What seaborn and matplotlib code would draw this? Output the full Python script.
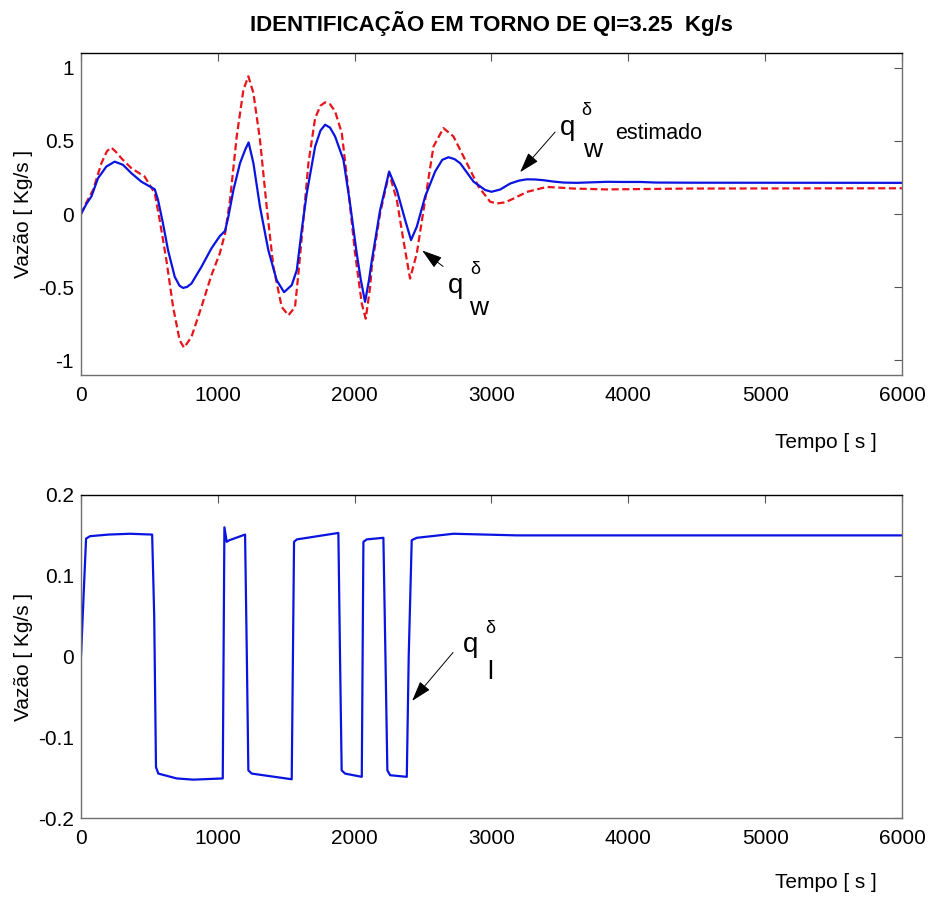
import matplotlib
matplotlib.use("Agg")
import matplotlib.pyplot as plt
import seaborn as sns

sns.set_style("white")
plt.rcParams['font.family'] = ['Liberation Sans', 'DejaVu Sans']
plt.rcParams['text.color'] = 'black'
plt.rcParams['axes.labelcolor'] = 'black'

# top plot: q_w (blue, estimated) and q_w (red dashed)
t_blue = [0, 40, 76, 124, 185, 246, 307, 368, 441, 539, 563, 599, 636, 685, 720, 746,
          775, 807, 880, 953, 1014, 1053, 1077, 1114, 1162, 1200, 1225, 1260, 1308,
          1369, 1430, 1484, 1540, 1577, 1613, 1650, 1711, 1750, 1784, 1820, 1857,
          1918, 1966, 2015, 2045, 2076, 2105, 2125, 2186, 2252, 2308, 2369, 2412,
          2454, 2515, 2588, 2640, 2686, 2730, 2771, 2869, 2954, 3000, 3063, 3136,
          3200, 3258, 3320, 3380, 3450, 3526, 3623, 3843, 3950, 4086, 4200, 4452, 6000]
q_blue = [0.0, 0.07, 0.12, 0.244, 0.324, 0.358, 0.336, 0.279, 0.221, 0.169, 0.096,
          -0.064, -0.247, -0.429, -0.49, -0.505, -0.498, -0.475, -0.361, -0.235,
          -0.151, -0.115, -0.018, 0.164, 0.347, 0.44, 0.489, 0.347, 0.05, -0.247,
          -0.452, -0.534, -0.486, -0.384, -0.11, 0.142, 0.461, 0.57, 0.61, 0.59,
          0.53, 0.37, 0.073, -0.269, -0.45, -0.6, -0.45, -0.32, 0.027, 0.29, 0.164,
          -0.041, -0.178, -0.087, 0.119, 0.29, 0.37, 0.388, 0.375, 0.347, 0.221,
          0.164, 0.152, 0.167, 0.208, 0.228, 0.237, 0.236, 0.231, 0.222, 0.215,
          0.213, 0.22, 0.219, 0.219, 0.215, 0.214, 0.213]

t_red = [0, 40, 88, 149, 190, 222, 260, 295, 368, 465, 539, 575, 624, 673, 721, 753,
         807, 880, 953, 1014, 1053, 1089, 1138, 1187, 1223, 1260, 1308, 1357, 1406,
         1467, 1516, 1564, 1589, 1625, 1662, 1711, 1750, 1784, 1820, 1857, 1906,
         1954, 2003, 2052, 2081, 2113, 2125, 2186, 2252, 2308, 2356, 2405, 2454,
         2515, 2576, 2649, 2722, 2820, 2905, 2990, 3040, 3100, 3160, 3258, 3404,
         3500, 3599, 3843, 4452, 6000]
q_red = [0.0, 0.08, 0.164, 0.347, 0.43, 0.454, 0.42, 0.381, 0.313, 0.256, 0.142,
         -0.041, -0.315, -0.635, -0.863, -0.913, -0.84, -0.635, -0.418, -0.27,
         -0.132, 0.096, 0.53, 0.849, 0.941, 0.826, 0.507, 0.05, -0.361, -0.635,
         -0.692, -0.635, -0.406, -0.041, 0.347, 0.655, 0.74, 0.763, 0.75, 0.701,
         0.553, 0.164, -0.269, -0.612, -0.715, -0.5, -0.361, 0.005, 0.279, 0.096,
         -0.178, -0.441, -0.269, 0.096, 0.461, 0.587, 0.53, 0.347, 0.187, 0.084,
         0.072, 0.08, 0.105, 0.151, 0.185, 0.18, 0.174, 0.168, 0.174, 0.176]

# bottom plot: q_l
t_l = [0, 20, 37, 66, 200, 358, 520, 535, 548, 565, 700, 821, 1036, 1048, 1065, 1084,
       1199, 1212, 1223, 1248, 1540, 1557, 1577, 1881, 1893, 1905, 1930, 2052, 2064,
       2088, 2210, 2225, 2239, 2259, 2381, 2395, 2417, 2454, 2722, 3185, 6000]
q_l = [0.0, 0.08, 0.146, 0.149, 0.151, 0.152, 0.151, 0.05, -0.137, -0.145, -0.151,
       -0.1525, -0.151, 0.16, 0.142, 0.144, 0.151, 0.0, -0.141, -0.145, -0.152, 0.142,
       0.145, 0.153, 0.0, -0.141, -0.145, -0.149, 0.142, 0.145, 0.147, 0.0, -0.141,
       -0.147, -0.149, 0.0, 0.144, 0.147, 0.152, 0.15, 0.15]

x_ticks = [0, 1000, 2000, 3000, 4000, 5000, 6000]
top_yticks = [-1, -0.5, 0, 0.5, 1]
top_ylabels = ['-1', '-0.5', '0', '0.5', '1']
bot_yticks = [-0.2, -0.1, 0, 0.1, 0.2]
bot_ylabels = ['-0.2', '-0.1', '0', '0.1', '0.2']

fig = plt.figure(figsize=(9.29, 9.0), dpi=100)
ax1 = fig.add_axes([0.0872, 0.5833, 0.8837, 0.3578])
ax2 = fig.add_axes([0.0872, 0.0911, 0.8837, 0.3589])

sns.lineplot(x=t_red, y=q_red, ax=ax1, color='#e8141a', lw=1.6, estimator=None,
             sort=False, linestyle=(0, (3.2, 1.6)))
sns.lineplot(x=t_blue, y=q_blue, ax=ax1, color='#0a14e0', lw=1.6, estimator=None, sort=False)
sns.lineplot(x=t_l, y=q_l, ax=ax2, color='#0a14e0', lw=1.6, estimator=None, sort=False)

ax1.set_ylim(-1.1, 1.1)
ax2.set_ylim(-0.2, 0.2)
ax1.set_yticks(top_yticks)
ax1.set_yticklabels(top_ylabels)
ax2.set_yticks(bot_yticks)
ax2.set_yticklabels(bot_ylabels)

for ax in (ax1, ax2):
    ax.set_xlim(0, 6000)
    ax.set_xticks(x_ticks)
    ax.set_xticklabels([str(v) for v in x_ticks])
    ax.tick_params(direction='in', length=6, width=0.8, colors='#555555',
                   labelcolor='black', labelsize=15, top=True, right=True)
    ax.tick_params(axis='x', pad=8)
    ax.tick_params(axis='y', pad=5)
    for s in ax.spines.values():
        s.set_color('#707070')
        s.set_linewidth(1.0)
    ax.spines['top'].set_color('black')
    ax.set_ylabel('Vazão [ Kg/s ]', fontsize=15)
    ax.set_xlabel('Tempo [ s ]', fontsize=15)
    ax.yaxis.set_label_coords(-0.058, 0.5)

ax1.xaxis.set_label_coords(0.907, -0.18)
ax2.xaxis.set_label_coords(0.907, -0.17)

ax1.set_title('IDENTIFICAÇÃO EM TORNO DE QI=3.25  Kg/s', fontsize=16, pad=16,
              fontweight='bold', color='black')

arrow = dict(arrowstyle='-|>,head_length=0.7,head_width=0.22', color='black',
             lw=0.7, shrinkA=0, shrinkB=0, mutation_scale=18)

# labels q_w^delta estimado
ax1.annotate('', xy=(3209, 0.286), xytext=(3465, 0.56), arrowprops=arrow)
ax1.text(3558, 0.59, 'q', fontsize=20, ha='center', va='center')
ax1.text(3692, 0.71, 'δ', fontsize=13, ha='center', va='center')
ax1.text(3739, 0.436, 'w', fontsize=19, ha='center', va='center')
ax1.text(4225, 0.55, 'estimado', fontsize=15.5, ha='center', va='center')

# labels q_w^delta
ax1.annotate('', xy=(2493, -0.249), xytext=(2646, -0.358), arrowprops=arrow)
ax1.text(2734, -0.492, 'q', fontsize=20, ha='center', va='center')
ax1.text(2880, -0.379, 'δ', fontsize=13, ha='center', va='center')
ax1.text(2909, -0.639, 'w', fontsize=19, ha='center', va='center')

# labels q_l^delta
ax2.annotate('', xy=(2420, -0.055), xytext=(2719, 0.005), arrowprops=arrow)
ax2.text(2847, 0.0143, 'q', fontsize=20, ha='center', va='center')
ax2.text(2990, 0.0347, 'δ', fontsize=13, ha='center', va='center')
ax2.text(2990, -0.0198, 'l', fontsize=19, ha='center', va='center')

fig.savefig('out.png', dpi=100)
